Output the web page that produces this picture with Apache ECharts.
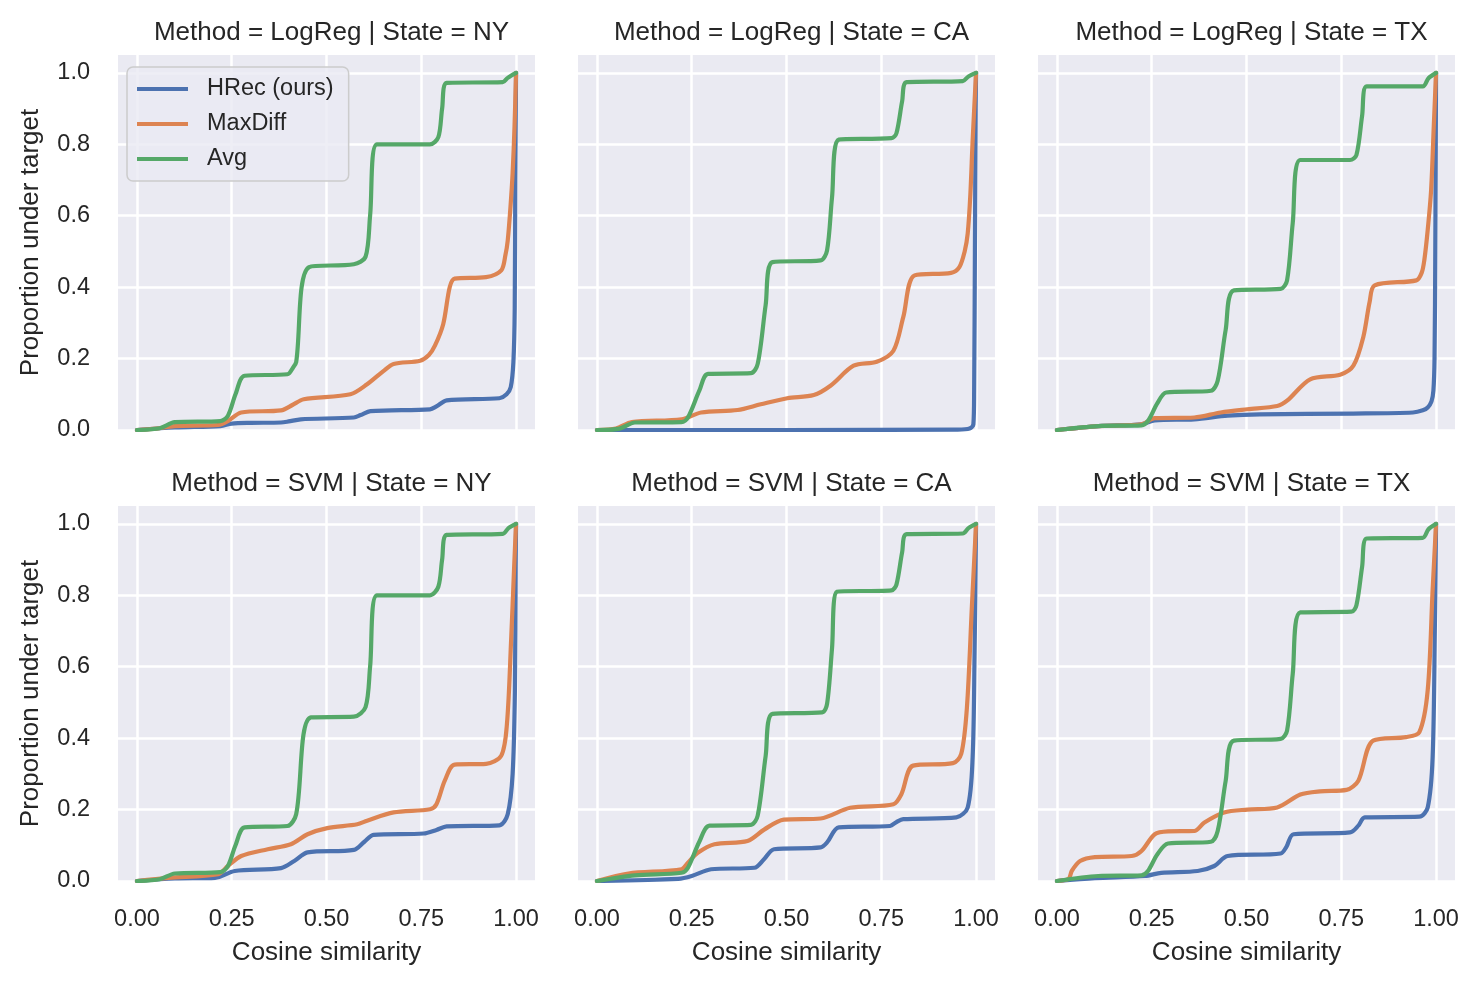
<!DOCTYPE html>
<html><head><meta charset="utf-8">
<script src="https://cdn.jsdelivr.net/npm/echarts@6/dist/echarts.min.js"></script>
<style>html,body{margin:0;padding:0;background:#fff}#c{width:1479px;height:985px}</style>
</head><body><div id="c"></div>
<script>
// ---- data: [cosine similarity, proportion under target] ----
const seriesNames = ['HRec (ours)', 'MaxDiff', 'Avg'];
const panelTitles = ['Method = LogReg | State = NY','Method = LogReg | State = CA','Method = LogReg | State = TX',
                     'Method = SVM | State = NY','Method = SVM | State = CA','Method = SVM | State = TX'];
const xTicks = [0, 0.25, 0.5, 0.75, 1.0];
const yTicks = [0, 0.2, 0.4, 0.6, 0.8, 1.0];

const logNY_hrec = [[0,0],[0.10,0.007],[0.22,0.011],[0.25,0.018],[0.30,0.02],[0.38,0.021],[0.40,0.024],[0.432,0.03],[0.572,0.035],[0.59,0.042],[0.616,0.053],[0.773,0.058],[0.79,0.066],[0.817,0.083],[0.956,0.089],[0.975,0.10],[0.986,0.12],[0.993,0.19],[0.9965,0.34],[0.998,0.70],[1.0,1.0]];
const logNY_maxdiff = [[0,0],[0.05,0.004],[0.10,0.011],[0.214,0.014],[0.24,0.025],[0.275,0.049],[0.38,0.055],[0.41,0.07],[0.44,0.086],[0.563,0.10],[0.607,0.128],[0.65,0.165],[0.677,0.185],[0.747,0.194],[0.77,0.21],[0.786,0.236],[0.808,0.297],[0.825,0.40],[0.838,0.424],[0.921,0.428],[0.961,0.447],[0.972,0.49],[0.978,0.53],[0.985,0.62],[0.991,0.72],[0.996,0.85],[1.0,1.0]];
const logNY_avg = [[0,0],[0.06,0.005],[0.10,0.022],[0.22,0.025],[0.24,0.04],[0.26,0.10],[0.284,0.152],[0.397,0.156],[0.412,0.175],[0.42,0.19],[0.454,0.456],[0.572,0.464],[0.603,0.485],[0.615,0.6],[0.633,0.80],[0.773,0.80],[0.795,0.82],[0.805,0.90],[0.817,0.972],[0.965,0.974],[0.978,0.986],[1.0,1.0]];

const logCA_hrec = [[0,0],[0.5,0.0],[0.95,0.001],[0.983,0.004],[0.993,0.016],[0.995,0.11],[0.997,0.5],[0.999,0.9],[1.0,1.0]];
const logCA_maxdiff = [[0,0],[0.05,0.004],[0.092,0.022],[0.223,0.03],[0.275,0.049],[0.371,0.056],[0.432,0.072],[0.502,0.089],[0.572,0.098],[0.616,0.124],[0.677,0.18],[0.738,0.191],[0.782,0.222],[0.808,0.316],[0.838,0.433],[0.934,0.44],[0.956,0.456],[0.97,0.50],[0.978,0.55],[0.985,0.66],[0.991,0.81],[1.0,1.0]];
const logCA_avg = [[0,0],[0.06,0.004],[0.10,0.021],[0.223,0.022],[0.24,0.035],[0.27,0.11],[0.293,0.157],[0.406,0.159],[0.424,0.185],[0.445,0.35],[0.463,0.47],[0.59,0.475],[0.607,0.503],[0.62,0.65],[0.638,0.813],[0.777,0.817],[0.79,0.831],[0.805,0.92],[0.817,0.974],[0.965,0.977],[0.98,0.99],[1.0,1.0]];

const logTX_hrec = [[0,0],[0.109,0.011],[0.223,0.016],[0.258,0.027],[0.362,0.03],[0.45,0.04],[0.535,0.044],[0.782,0.046],[0.939,0.049],[0.965,0.055],[0.978,0.063],[0.988,0.08],[0.993,0.11],[0.996,0.2],[0.998,0.5],[1.0,1.0]];
const logTX_maxdiff = [[0,0],[0.109,0.011],[0.223,0.016],[0.258,0.033],[0.362,0.035],[0.432,0.049],[0.502,0.058],[0.581,0.067],[0.607,0.082],[0.668,0.142],[0.747,0.155],[0.782,0.18],[0.808,0.26],[0.825,0.36],[0.838,0.405],[0.948,0.419],[0.962,0.44],[0.969,0.475],[0.978,0.56],[0.987,0.672],[0.994,0.85],[1.0,1.0]];
const logTX_avg = [[0,0],[0.109,0.011],[0.223,0.013],[0.24,0.025],[0.265,0.075],[0.288,0.105],[0.406,0.11],[0.424,0.138],[0.445,0.28],[0.467,0.391],[0.59,0.395],[0.607,0.419],[0.622,0.58],[0.642,0.756],[0.773,0.756],[0.79,0.77],[0.805,0.88],[0.817,0.962],[0.965,0.962],[0.98,0.985],[1.0,1.0]];

const svmNY_hrec = [[0,0],[0.10,0.007],[0.206,0.009],[0.258,0.028],[0.38,0.036],[0.415,0.056],[0.45,0.08],[0.572,0.087],[0.60,0.11],[0.624,0.129],[0.756,0.133],[0.79,0.143],[0.817,0.153],[0.956,0.156],[0.978,0.187],[0.991,0.30],[0.997,0.534],[0.999,0.88],[1.0,1.0]];
const svmNY_maxdiff = [[0,0],[0.083,0.009],[0.214,0.019],[0.24,0.042],[0.275,0.07],[0.345,0.089],[0.406,0.103],[0.45,0.131],[0.502,0.148],[0.581,0.159],[0.607,0.169],[0.677,0.192],[0.773,0.201],[0.79,0.215],[0.812,0.281],[0.838,0.326],[0.921,0.328],[0.961,0.351],[0.976,0.44],[0.987,0.674],[0.995,0.88],[1.0,1.0]];
const svmNY_avg = [[0,0],[0.06,0.005],[0.10,0.021],[0.22,0.025],[0.24,0.042],[0.26,0.10],[0.284,0.15],[0.397,0.154],[0.42,0.187],[0.459,0.458],[0.572,0.46],[0.603,0.487],[0.615,0.6],[0.633,0.80],[0.773,0.80],[0.795,0.824],[0.805,0.90],[0.817,0.969],[0.965,0.972],[0.98,0.988],[1.0,1.0]];

const svmCA_hrec = [[0,0],[0.214,0.006],[0.25,0.014],[0.301,0.033],[0.415,0.037],[0.44,0.06],[0.467,0.089],[0.59,0.094],[0.607,0.108],[0.638,0.15],[0.773,0.154],[0.79,0.165],[0.808,0.173],[0.948,0.178],[0.978,0.206],[0.991,0.346],[0.996,0.627],[1.0,1.0]];
const svmCA_maxdiff = [[0,0],[0.083,0.021],[0.223,0.033],[0.24,0.051],[0.266,0.079],[0.31,0.103],[0.397,0.112],[0.441,0.144],[0.493,0.172],[0.59,0.175],[0.668,0.205],[0.782,0.215],[0.803,0.243],[0.834,0.323],[0.939,0.33],[0.961,0.356],[0.976,0.487],[0.989,0.768],[1.0,1.0]];
const svmCA_avg = [[0,0],[0.10,0.016],[0.223,0.023],[0.24,0.037],[0.27,0.11],[0.297,0.155],[0.406,0.157],[0.424,0.183],[0.445,0.35],[0.463,0.468],[0.594,0.472],[0.607,0.496],[0.62,0.65],[0.633,0.81],[0.777,0.814],[0.79,0.83],[0.805,0.92],[0.817,0.971],[0.965,0.973],[0.98,0.988],[1.0,1.0]];

const svmTX_hrec = [[0,0],[0.10,0.008],[0.232,0.014],[0.275,0.023],[0.371,0.028],[0.415,0.042],[0.45,0.07],[0.59,0.077],[0.605,0.095],[0.624,0.131],[0.773,0.136],[0.795,0.155],[0.812,0.178],[0.956,0.18],[0.978,0.206],[0.991,0.346],[0.997,0.72],[1.0,1.0]];
const svmTX_maxdiff = [[0,0],[0.031,0.006],[0.039,0.028],[0.061,0.056],[0.10,0.067],[0.197,0.07],[0.223,0.084],[0.258,0.131],[0.293,0.139],[0.362,0.14],[0.389,0.164],[0.441,0.192],[0.502,0.2],[0.581,0.206],[0.642,0.242],[0.694,0.251],[0.764,0.255],[0.795,0.281],[0.834,0.393],[0.921,0.403],[0.956,0.417],[0.978,0.534],[0.991,0.815],[1.0,1.0]];
const svmTX_avg = [[0,0],[0.109,0.014],[0.223,0.016],[0.24,0.028],[0.265,0.075],[0.293,0.105],[0.406,0.11],[0.424,0.14],[0.445,0.28],[0.467,0.393],[0.59,0.398],[0.607,0.421],[0.622,0.58],[0.642,0.752],[0.777,0.754],[0.79,0.772],[0.805,0.88],[0.817,0.959],[0.965,0.961],[0.98,0.985],[1.0,1.0]];

const panelData = [
  [logNY_hrec, logNY_maxdiff, logNY_avg],
  [logCA_hrec, logCA_maxdiff, logCA_avg],
  [logTX_hrec, logTX_maxdiff, logTX_avg],
  [svmNY_hrec, svmNY_maxdiff, svmNY_avg],
  [svmCA_hrec, svmCA_maxdiff, svmCA_avg],
  [svmTX_hrec, svmTX_maxdiff, svmTX_avg]
];

// ---- styling ----
const colors = ['#4C72B0', '#DD8452', '#55A868'];
const FONT = '"Liberation Sans", Arial, Helvetica, sans-serif';
const TXT = '#262626';
const lefts = [118, 578, 1038];
const tops = [55, 506];
const W = 417, H = 375;

const grids = [], xAxes = [], yAxes = [], series = [], titles = [];
for (let p = 0; p < 6; p++) {
  const col = p % 3, row = Math.floor(p / 3);
  grids.push({left: lefts[col], top: tops[row], width: W, height: H, show: true,
              backgroundColor: '#EAEAF2', borderWidth: 0, containLabel: false});
  xAxes.push({
    type: 'value', gridIndex: p, min: -0.05, max: 1.05,
    axisLine: {show: false}, axisTick: {show: false, customValues: xTicks},
    axisLabel: {show: row === 1, customValues: xTicks, margin: 27,
                formatter: v => v.toFixed(2), color: TXT, fontSize: 23.5, fontFamily: FONT},
    splitLine: {show: true, lineStyle: {color: '#ffffff', width: 2.5}},
    name: row === 1 ? 'Cosine similarity' : '', nameLocation: 'middle', nameGap: 59,
    nameTextStyle: {color: TXT, fontSize: 26, fontFamily: FONT}
  });
  yAxes.push({
    type: 'value', gridIndex: p, min: 0, max: 1.05,
    axisLine: {show: false}, axisTick: {show: false, customValues: yTicks},
    axisLabel: {show: col === 0, customValues: yTicks, margin: 28,
                formatter: v => v.toFixed(1), color: TXT, fontSize: 23.5, fontFamily: FONT},
    splitLine: {show: true, lineStyle: {color: '#ffffff', width: 2.5}},
    name: col === 0 ? 'Proportion under target' : '', nameLocation: 'middle', nameGap: 74,
    nameTextStyle: {color: TXT, fontSize: 26, fontFamily: FONT}
  });
  titles.push({
    text: panelTitles[p], left: lefts[col] + W / 2, top: tops[row] - 40, textAlign: 'center',
    textStyle: {color: TXT, fontSize: 26, fontWeight: 'normal', fontFamily: FONT}
  });
  for (let s = 0; s < 3; s++) {
    series.push({
      type: 'line', name: seriesNames[s], xAxisIndex: p, yAxisIndex: p,
      data: panelData[p][s], symbol: 'none', showSymbol: false, smooth: 0.3,
      clip: true, animation: false, z: 2 + s,
      lineStyle: {color: colors[s], width: 4.2, cap: 'round', join: 'round'},
      itemStyle: {color: colors[s]}
    });
  }
}

const chart = echarts.init(document.getElementById('c'), null, {renderer: 'canvas'});
chart.setOption({
  animation: false,
  backgroundColor: '#ffffff',
  title: titles,
  grid: grids, xAxis: xAxes, yAxis: yAxes, series: series,
  legend: {
    data: seriesNames, orient: 'vertical', left: 127, top: 67,
    backgroundColor: 'rgba(234,234,242,0.8)', borderColor: '#cccccc', borderWidth: 1.5, borderRadius: 6,
    padding: [10, 15, 10, 10], itemGap: 11, itemWidth: 51, itemHeight: 24,
    textStyle: {color: TXT, fontSize: 23.5, fontFamily: FONT, padding: [0, 0, 0, 14]},
    icon: 'path://M0,10 L51,10 L51,14 L0,14 Z'
  }
});
</script></body></html>
